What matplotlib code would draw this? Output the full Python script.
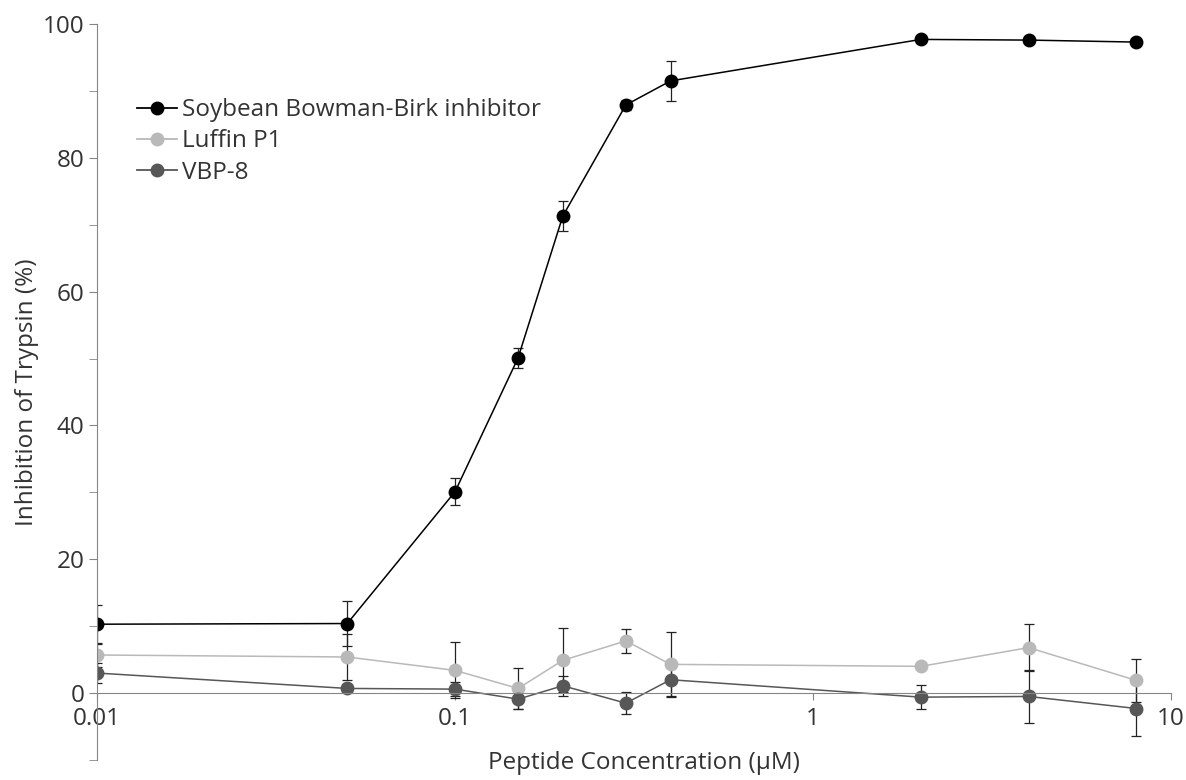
import matplotlib
matplotlib.use('Agg')
import matplotlib.pyplot as plt
from matplotlib.lines import Line2D
from matplotlib.ticker import FixedLocator, NullLocator, FixedFormatter

plt.rcParams['font.family'] = ['Open Sans', 'DejaVu Sans']

conc = [0.01, 0.05, 0.1, 0.15, 0.2, 0.3, 0.4, 2, 4, 8]
soybean = [10.3, 10.4, 30.1, 50.1, 71.3, 87.9, 91.5, 97.7, 97.6, 97.3]
soybean_err = [2.9, 3.4, 2.0, 1.5, 2.2, 0.7, 3.0, 0.4, 0.4, 0.4]
luffin = [5.7, 5.4, 3.4, 0.7, 4.9, 7.8, 4.3, 4.0, 6.8, 1.9]
luffin_err = [1.8, 3.5, 4.2, 3.0, 4.8, 1.8, 4.8, 0.4, 3.5, 3.2]
vbp8 = [3.0, 0.7, 0.6, -0.9, 1.1, -1.5, 2.0, -0.6, -0.5, -2.3]
vbp8_err = [1.5, 0.5, 1.0, 1.5, 1.5, 1.6, 2.6, 1.8, 3.9, 4.1]

names = ['Soybean Bowman-Birk inhibitor', 'Luffin P1', 'VBP-8']
colors = ['#000000', '#b9b9b9', '#575757']
text_col = '#333333'
spine_col = '#868686'
fs = 17.5

fig = plt.figure(figsize=(11.86, 7.8), dpi=100)
ax = fig.add_axes([0.0818, 0.0256, 0.9056, 0.9436])

handles = []
for vals, errs, c, n in zip([soybean, luffin, vbp8], [soybean_err, luffin_err, vbp8_err], colors, names):
    ax.errorbar(conc, vals, yerr=errs, color=c, ecolor='#222222', elinewidth=0.9,
                capsize=3.6, capthick=0.9, marker='o', markersize=9, lw=1.1)
    handles.append(Line2D([], [], color=c, marker='o', markersize=9, lw=1.3, label=n))

ax.set_xscale('log')
ax.set_xlim(0.01, 10)
ax.set_ylim(-10, 100)

ax.spines['top'].set_visible(False)
ax.spines['right'].set_visible(False)
ax.spines['bottom'].set_position(('data', 0))
ax.spines['bottom'].set_color(spine_col)
ax.spines['left'].set_color(spine_col)

ax.xaxis.set_major_locator(FixedLocator([0.01, 0.1, 1, 10]))
ax.xaxis.set_major_formatter(FixedFormatter(['0.01', '0.1', '1', '10']))
ax.xaxis.set_minor_locator(NullLocator())
ax.yaxis.set_major_locator(FixedLocator([0, 20, 40, 60, 80, 100]))
ax.yaxis.set_minor_locator(FixedLocator([-10, 10, 30, 50, 70, 90]))

ax.tick_params(axis='both', which='both', direction='out', color=spine_col, labelsize=fs,
               labelcolor=text_col)
ax.tick_params(axis='y', which='major', length=6, pad=3)
ax.tick_params(axis='y', which='minor', length=6)
ax.tick_params(axis='x', which='major', length=5, pad=5)

ax.set_ylabel('Inhibition of Trypsin (%)', fontsize=fs, color=text_col, labelpad=3)
fig.text(0.5426, 0.0218, 'Peptide Concentration (\u00b5M)', fontsize=fs, color=text_col,
         ha='center', va='center')

ax.legend(handles=handles, loc='upper left', bbox_to_anchor=(0.017, 0.929), frameon=False,
          fontsize=fs, handlelength=1.65, handletextpad=0.2, labelspacing=0.3,
          labelcolor=text_col)

fig.savefig('out.png', dpi=100)
